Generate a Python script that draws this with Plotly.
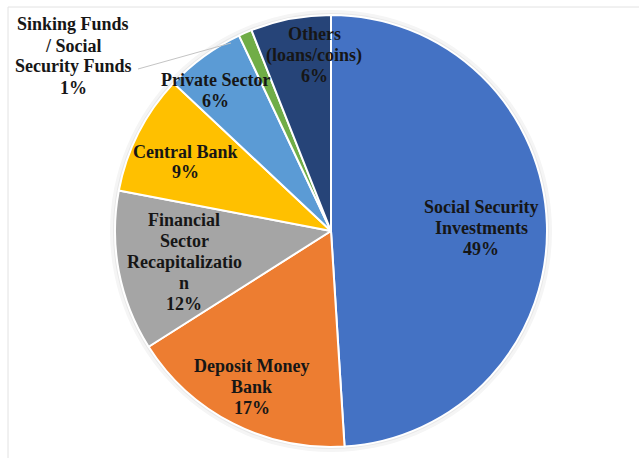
import plotly.graph_objects as go

# Slice data (clockwise from 12 o'clock)
categories = [
    "Social Security Investments",
    "Deposit Money Bank",
    "Financial Sector Recapitalization",
    "Central Bank",
    "Private Sector",
    "Sinking Funds / Social Security Funds",
    "Others (loans/coins)",
]
shares = [49, 17, 12, 9, 6, 1, 6]
label_lines = [
    ["Social Security", "Investments"],
    ["Deposit Money", "Bank"],
    ["Financial", "Sector", "Recapitalizatio", "n"],
    ["Central Bank"],
    ["Private Sector"],
    ["Sinking Funds", "/ Social", "Security Funds"],
    ["Others", "(loans/coins)"],
]
colors = ["#4472C4", "#ED7D31", "#A5A5A5", "#FFC000", "#5B9BD5", "#70AD47", "#264478"]

# Canvas geometry (pixels)
W, H = 639, 458
CX, CY, R = 331, 231, 216

# Label block centres (pixels) and line pitch
label_pos = [(481, 228), (252, 387), (184, 262), (185, 162), (215, 90), (73, 56), (314, 55)]
LINE = 21

LABEL_FONT = dict(family="Liberation Serif, Times New Roman, serif", size=18, color="#161616")


def px(x):
    return x / W


def py(y):
    return 1 - y / H


fig = go.Figure()

fig.add_trace(go.Pie(
    labels=categories,
    values=shares,
    sort=False,
    direction="clockwise",
    rotation=0,
    marker=dict(colors=colors, line=dict(color="white", width=2)),
    textinfo="none",
    hoverinfo="label+percent",
    showlegend=False,
    domain=dict(x=[px(CX - R), px(CX + R)], y=[py(CY + R), py(CY - R)]),
))

total = sum(shares)
annotations = []
for lines, v, (lx, ly) in zip(label_lines, shares, label_pos):
    rows = lines + [f"{round(100 * v / total)}%"]
    n = len(rows)
    for i, row in enumerate(rows):
        annotations.append(dict(
            x=px(lx), y=py(ly + (i - (n - 1) / 2) * LINE), xref="paper", yref="paper",
            xanchor="center", yanchor="middle", showarrow=False,
            text=f"<b>{row}</b>",
            font=LABEL_FONT,
        ))

shapes = [
    # soft halo around the pie
    dict(type="circle", xref="paper", yref="paper", layer="below",
         x0=px(CX - R - 5), x1=px(CX + R + 5), y0=py(CY + R + 5), y1=py(CY - R - 5),
         fillcolor="#f5f5f5", line=dict(width=0)),
    dict(type="circle", xref="paper", yref="paper", layer="below",
         x0=px(CX - R - 2), x1=px(CX + R + 2), y0=py(CY + R + 2), y1=py(CY - R - 2),
         fillcolor="#e8e8e8", line=dict(width=0)),
    # leader line for the small slice label
    dict(type="line", xref="paper", yref="paper",
         x0=px(138), y0=py(69), x1=px(231), y1=py(43),
         line=dict(color="#c4c4c4", width=1)),
    # frame edges
    dict(type="line", xref="paper", yref="paper",
         x0=px(8), y0=py(7), x1=px(W + 5), y1=py(7),
         line=dict(color="#e2e2e2", width=1)),
    dict(type="line", xref="paper", yref="paper",
         x0=px(8), y0=py(7), x1=px(8), y1=py(H + 5),
         line=dict(color="#e2e2e2", width=1)),
]

fig.update_layout(
    width=W, height=H,
    margin=dict(l=0, r=0, t=0, b=0),
    paper_bgcolor="white",
    plot_bgcolor="white",
    annotations=annotations,
    shapes=shapes,
)

fig.write_html("out.html")
